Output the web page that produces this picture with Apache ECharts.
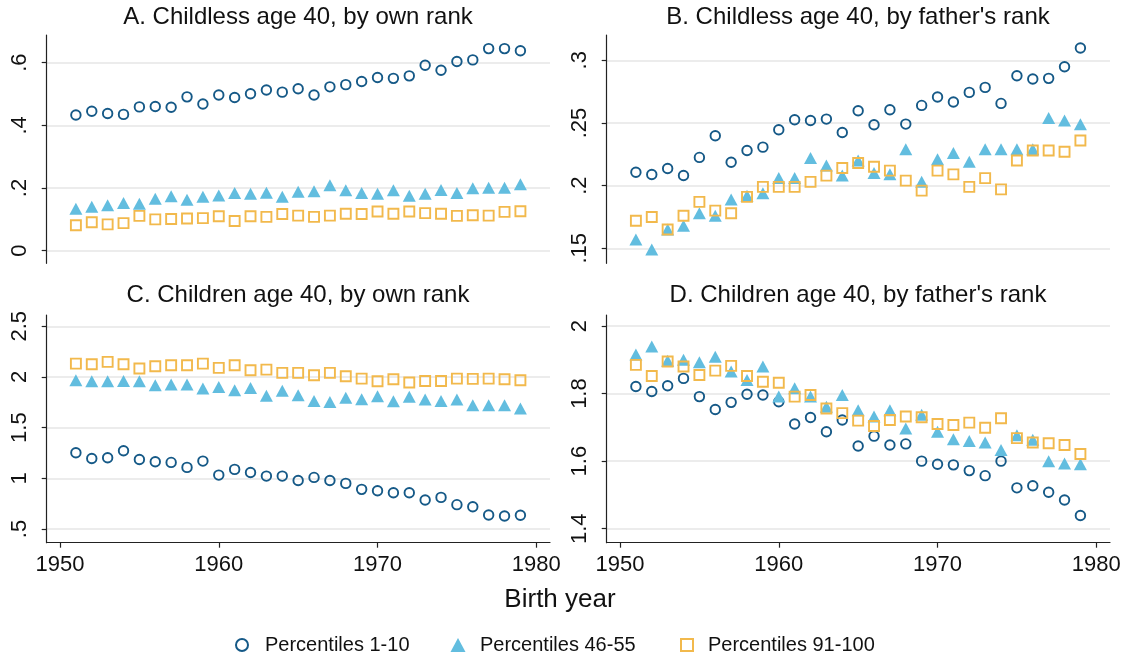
<!DOCTYPE html>
<html>
<head>
<meta charset="utf-8">
<script src="https://cdn.jsdelivr.net/npm/echarts@6/dist/echarts.min.js"></script>
<style>
  html, body { margin: 0; padding: 0; background: #fff; }
  #main { width: 1125px; height: 661px; }
</style>
</head>
<body>
<div id="main"></div>
<script>
// birth years on the x axis
const years = [1951, 1952, 1953, 1954, 1955, 1956, 1957, 1958, 1959, 1960,
  1961, 1962, 1963, 1964, 1965, 1966, 1967, 1968, 1969, 1970,
  1971, 1972, 1973, 1974, 1975, 1976, 1977, 1978, 1979];
const xTicks = [1950, 1960, 1970, 1980];

// A. Childless age 40, by own rank
const childlessOwnP1 = [0.433, 0.445, 0.438, 0.435, 0.459, 0.460, 0.458, 0.491, 0.468, 0.497,
  0.489, 0.501, 0.513, 0.506, 0.517, 0.497, 0.523, 0.530, 0.540, 0.553,
  0.550, 0.558, 0.592, 0.576, 0.604, 0.609, 0.645, 0.645, 0.638];
const childlessOwnP46 = [0.134, 0.140, 0.145, 0.152, 0.150, 0.166, 0.174, 0.163, 0.172, 0.176,
  0.184, 0.182, 0.185, 0.172, 0.188, 0.190, 0.209, 0.193, 0.184, 0.182,
  0.193, 0.175, 0.182, 0.194, 0.184, 0.199, 0.201, 0.201, 0.212];
const childlessOwnP91 = [0.081, 0.091, 0.084, 0.088, 0.111, 0.100, 0.101, 0.103, 0.104, 0.110,
  0.095, 0.110, 0.108, 0.117, 0.112, 0.108, 0.112, 0.118, 0.117, 0.125,
  0.118, 0.125, 0.120, 0.118, 0.111, 0.113, 0.112, 0.124, 0.126];

// B. Childless age 40, by father's rank
const childlessFatherP1 = [0.2107, 0.2089, 0.2137, 0.2081, 0.2225, 0.2398, 0.2187, 0.2280, 0.2307, 0.2446,
  0.2526, 0.2520, 0.2531, 0.2424, 0.2597, 0.2486, 0.2605, 0.2491, 0.2640, 0.2707,
  0.2667, 0.2744, 0.2784, 0.2656, 0.2877, 0.2851, 0.2856, 0.2949, 0.3098];
const childlessFatherP46 = [0.157, 0.149, 0.165, 0.168, 0.178, 0.176, 0.189, 0.192, 0.194, 0.206,
  0.206, 0.222, 0.216, 0.208, 0.220, 0.210, 0.209, 0.229, 0.203, 0.221,
  0.226, 0.219, 0.229, 0.229, 0.229, 0.229, 0.254, 0.252, 0.249];
const childlessFatherP91 = [0.172, 0.175, 0.165, 0.176, 0.187, 0.180, 0.178, 0.191, 0.199, 0.199,
  0.199, 0.203, 0.208, 0.214, 0.218, 0.215, 0.212, 0.204, 0.196, 0.212,
  0.209, 0.199, 0.206, 0.197, 0.220, 0.228, 0.228, 0.227, 0.236];

// C. Children age 40, by own rank
const childrenOwnP1 = [1.252, 1.196, 1.203, 1.272, 1.186, 1.163, 1.157, 1.108, 1.170, 1.032,
  1.088, 1.058, 1.022, 1.022, 0.979, 1.009, 0.979, 0.950, 0.891, 0.878,
  0.858, 0.858, 0.786, 0.812, 0.740, 0.720, 0.638, 0.628, 0.635];
const childrenOwnP46 = [1.968, 1.958, 1.958, 1.961, 1.958, 1.919, 1.925, 1.925, 1.886, 1.902,
  1.869, 1.892, 1.814, 1.863, 1.820, 1.764, 1.754, 1.794, 1.781, 1.810,
  1.761, 1.804, 1.777, 1.764, 1.777, 1.722, 1.722, 1.722, 1.689];
const childrenOwnP91 = [2.132, 2.126, 2.149, 2.126, 2.083, 2.106, 2.116, 2.116, 2.132, 2.090,
  2.116, 2.067, 2.073, 2.040, 2.040, 2.017, 2.040, 2.007, 1.984, 1.958,
  1.978, 1.945, 1.961, 1.961, 1.984, 1.981, 1.984, 1.978, 1.968];

// D. Children age 40, by father's rank
const childrenFatherP1 = [1.821, 1.806, 1.823, 1.845, 1.791, 1.753, 1.774, 1.798, 1.796, 1.776,
  1.710, 1.729, 1.687, 1.722, 1.645, 1.674, 1.648, 1.651, 1.600, 1.591,
  1.589, 1.572, 1.557, 1.600, 1.521, 1.527, 1.508, 1.485, 1.439];
const childrenFatherP46 = [1.916, 1.939, 1.897, 1.900, 1.893, 1.909, 1.865, 1.840, 1.880, 1.791,
  1.816, 1.791, 1.761, 1.796, 1.751, 1.732, 1.751, 1.697, 1.737, 1.687,
  1.665, 1.660, 1.655, 1.633, 1.677, 1.663, 1.600, 1.593, 1.591];
const childrenFatherP91 = [1.885, 1.852, 1.895, 1.880, 1.855, 1.868, 1.882, 1.852, 1.835, 1.832,
  1.791, 1.796, 1.756, 1.742, 1.720, 1.704, 1.722, 1.732, 1.730, 1.710,
  1.707, 1.714, 1.699, 1.727, 1.668, 1.655, 1.653, 1.648, 1.621];

const seriesNames = ['Percentiles 1-10', 'Percentiles 46-55', 'Percentiles 91-100'];
const panelTitles = ['A. Childless age 40, by own rank', "B. Childless age 40, by father's rank",
  'C. Children age 40, by own rank', "D. Children age 40, by father's rank"];
const yTicksA = [0, 0.2, 0.4, 0.6];
const yTicksB = [0.15, 0.2, 0.25, 0.3];
const yTicksC = [0.5, 1, 1.5, 2, 2.5];
const yTicksD = [1.4, 1.6, 1.8, 2];

const FONT = '"Liberation Sans", Arial, Helvetica, sans-serif';
const colors = ['#155987', '#62bddf', '#f2b94c'];

const chartDom = document.getElementById('main');
const myChart = echarts.init(chartDom, null, { renderer: 'canvas' });

const panels = [
  { data: [childlessOwnP1, childlessOwnP46, childlessOwnP91], ticks: yTicksA, min: -0.0402, max: 0.6884, bottom: false },
  { data: [childlessFatherP1, childlessFatherP46, childlessFatherP91], ticks: yTicksB, min: 0.138, max: 0.3202, bottom: false },
  { data: [childrenOwnP1, childrenOwnP46, childrenOwnP91], ticks: yTicksC, min: 0.3648, max: 2.6115, bottom: true },
  { data: [childrenFatherP1, childrenFatherP46, childrenFatherP91], ticks: yTicksD, min: 1.3586, max: 2.0326, bottom: true }
];

const grids = [
  { left: 46.7, top: 35, width: 503.3, height: 228.3 },
  { left: 606.7, top: 35, width: 503.3, height: 228.3 },
  { left: 46.7, top: 315, width: 503.3, height: 227.7 },
  { left: 606.7, top: 315, width: 503.3, height: 227.7 }
];

const fmtY = v => {
  if (v === 0) return '0';
  return String(+v.toFixed(2)).replace(/^0\./, '.');
};

const xAxes = panels.map((p, i) => ({
  type: 'value',
  gridIndex: i,
  min: 1949.161,
  max: 1980.864,
  axisLine: { show: p.bottom, onZero: false, lineStyle: { color: '#222', width: 1.2 } },
  axisTick: { show: p.bottom, customValues: xTicks, length: 5, lineStyle: { color: '#222', width: 1.2 } },
  axisLabel: { show: p.bottom, customValues: xTicks, fontSize: 22, color: '#111', fontFamily: FONT, margin: 11,
    formatter: v => String(Math.round(v)) },
  splitLine: { show: false }
}));

const yAxes = panels.map((p, i) => ({
  type: 'value',
  gridIndex: i,
  min: p.min,
  max: p.max,
  axisLine: { show: true, onZero: false, lineStyle: { color: '#222', width: 1.2 } },
  axisTick: { show: true, customValues: p.ticks, length: 5, lineStyle: { color: '#222', width: 1.2 } },
  axisLabel: { customValues: p.ticks, rotate: 90, fontSize: 22, color: '#111', fontFamily: FONT, margin: 16, formatter: fmtY },
  splitLine: { show: true, customValues: p.ticks, lineStyle: { color: '#e6e6e6', width: 1.5 } }
}));

const symbols = ['circle', 'triangle', 'rect'];
const sizes = [9.5, [13, 12], 10];

const series = [];
panels.forEach((p, i) => {
  p.data.forEach((vals, k) => {
    series.push({
      type: 'scatter',
      name: seriesNames[k],
      xAxisIndex: i,
      yAxisIndex: i,
      symbol: symbols[k],
      symbolSize: sizes[k],
      data: years.map((y, j) => [y, vals[j]]),
      z: 2 + k,
      itemStyle: k === 1
        ? { color: colors[1], opacity: 1 }
        : { color: 'rgba(0,0,0,0)', borderColor: colors[k], borderWidth: 1.9, opacity: 1 },
      emphasis: { disabled: true }
    });
  });
});

// legend: one component per entry so each sits where the original has it
const legendIconW = [12, 15, 12];
const legendIconH = [12, 14, 12];
const legendCenters = [241, 458, 686];
const legendTextStart = [264, 480, 707];
const legends = seriesNames.map((n, k) => {
  const left = legendCenters[k] - legendIconW[k] / 2;
  const pad = legendTextStart[k] - (left + legendIconW[k] + 5);
  return {
    data: [{
      name: n,
      icon: symbols[k],
      itemStyle: k === 1
        ? { color: colors[1] }
        : { color: 'rgba(0,0,0,0)', borderColor: colors[k], borderWidth: 2 }
    }],
    left: left,
    top: 635,
    itemWidth: legendIconW[k],
    itemHeight: legendIconH[k],
    padding: 0,
    selectedMode: false,
    textStyle: { fontSize: 20, color: '#111', fontFamily: FONT, padding: [0, 0, 0, pad] }
  };
});

const titleCenters = [298, 858, 298, 858];
const titleYs = [17.5, 17.5, 295.5, 295.5];
const graphics = panelTitles.map((t, i) => ({
  type: 'text',
  x: titleCenters[i],
  y: titleYs[i],
  style: { text: t, font: '24px ' + FONT, fill: '#111', textAlign: 'center', textVerticalAlign: 'middle' }
}));
graphics.push({
  type: 'text',
  x: 560,
  y: 600,
  style: { text: 'Birth year', font: '26px ' + FONT, fill: '#111', textAlign: 'center', textVerticalAlign: 'middle' }
});

const option = {
  animation: false,
  backgroundColor: '#fff',
  grid: grids.map(g => Object.assign({ containLabel: false }, g)),
  xAxis: xAxes,
  yAxis: yAxes,
  legend: legends,
  graphic: graphics,
  series: series
};

myChart.setOption(option);
</script>
</body>
</html>
